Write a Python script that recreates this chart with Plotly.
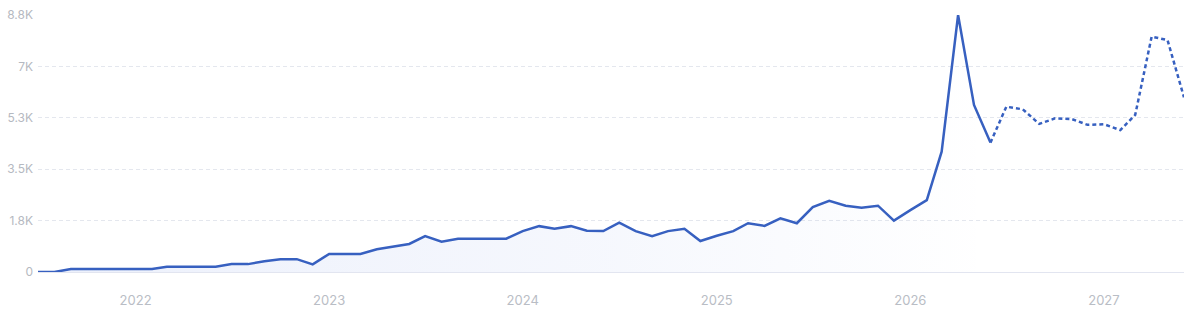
import plotly.graph_objects as go
import pandas as pd

# Monthly categories: Jul 2021 .. Jun 2027
months = [d.strftime("%Y-%m-01") for d in pd.date_range("2021-07-01", "2027-06-01", freq="MS")]

# Observed values (Jul 2021 .. Jun 2026)
actual_values = [
    0, 0, 100, 100, 100, 100, 100, 100, 180, 180, 180, 180,
    270, 270, 370, 440, 440, 260, 620, 620, 620, 780, 880, 960,
    1230, 1040, 1140, 1140, 1140, 1140, 1400, 1570, 1480, 1570, 1410, 1400,
    1690, 1400, 1230, 1400, 1480, 1060, 1240, 1400, 1670, 1580, 1840, 1670,
    2220, 2440, 2270, 2200, 2270, 1760, 2120, 2460, 4120, 8800, 5720, 4430,
]
# Forecast values (Jun 2026 .. Jun 2027)
forecast_values = [4430, 5660, 5570, 5070, 5260, 5240, 5040, 5060, 4860, 5380, 8060, 7940, 5980]

y_tickvals = [0, 1760, 3520, 5280, 7040, 8800]
y_ticktext = ["0", "1.8K", "3.5K", "5.3K", "7K", "8.8K"]
x_tickvals = ["2022-01-01", "2023-01-01", "2024-01-01", "2025-01-01", "2026-01-01", "2027-01-01"]
x_ticktext = ["2022", "2023", "2024", "2025", "2026", "2027"]

line_color = "#3760c0"
actual_x = months[:len(actual_values)]
forecast_x = months[len(actual_values) - 1:]

fig = go.Figure()
fig.add_trace(go.Scatter(
    x=actual_x, y=actual_values, mode="lines",
    line=dict(color=line_color, width=2.5),
    fill="tozeroy",
    fillgradient=dict(type="horizontal",
                      colorscale=[[0, "rgba(70,110,220,0.10)"], [0.6, "rgba(70,110,220,0.05)"],
                                  [1, "rgba(70,110,220,0.0)"]]),
    cliponaxis=False, hoverinfo="skip", showlegend=False,
))
fig.add_trace(go.Scatter(
    x=forecast_x, y=forecast_values, mode="lines",
    line=dict(color=line_color, width=2.5, dash="4px,3px"),
    cliponaxis=False, hoverinfo="skip", showlegend=False,
))

fig.update_layout(
    width=1200, height=314,
    margin=dict(l=38, r=16, t=15, b=42, autoexpand=False),
    paper_bgcolor="white", plot_bgcolor="white",
    font=dict(family="Inter, Noto Sans, sans-serif", size=12, color="#b5b9c1"),
)
fig.update_xaxes(
    type="date", range=[months[0], months[-1]],
    tickvals=x_tickvals, ticktext=x_ticktext,
    showgrid=False, zeroline=False, automargin=False,
    showline=True, linecolor="#e2e5f0", linewidth=1,
    ticks="", ticklabelstandoff=16,
    tickfont=dict(size=13, color="#b9bdc5"),
)
fig.update_yaxes(
    range=[0, 8800], tickvals=y_tickvals, ticktext=y_ticktext,
    showgrid=True, gridcolor="#e4e7ee", griddash="4px,3px", gridwidth=1,
    zeroline=False, showline=False, ticks="", ticklabelstandoff=4, automargin=False,
    tickfont=dict(size=12, color="#b5b9c1"),
)

fig.write_html("out.html")
